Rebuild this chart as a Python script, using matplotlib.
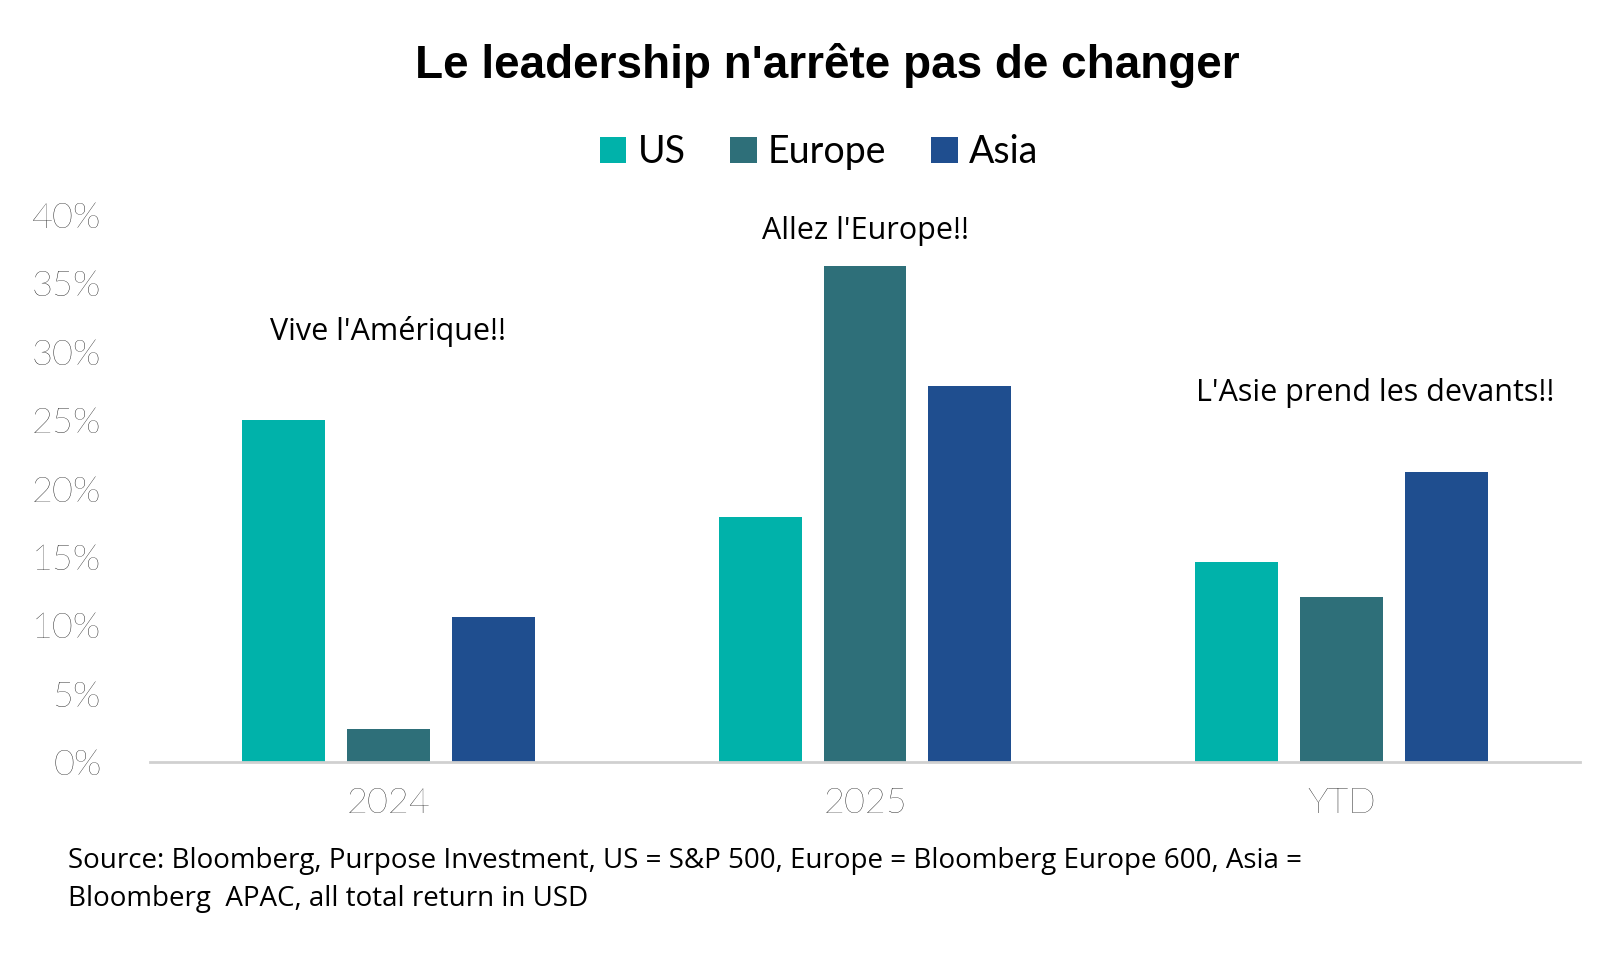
import matplotlib
matplotlib.use("Agg")
import matplotlib.pyplot as plt
import numpy as np

categories = ["2024", "2025", "YTD"]
series = ["US", "Europe", "Asia"]
us = [25.0, 17.9, 14.6]
europe = [2.4, 36.3, 12.1]
asia = [10.6, 27.5, 21.2]
colors = ["#00B2AA", "#2E6F79", "#1F4E8F"]
yticks = [0, 5, 10, 15, 20, 25, 30, 35, 40]
notes = [("Vive l'Amérique!!", 0, 31.5), ("Allez l'Europe!!", 1, 38.8), ("L'Asie prend les devants!!", 2, 27.0)]

W, H = 1622, 975
fig = plt.figure(figsize=(W/100, H/100), dpi=100)
ax = fig.add_axes([150/W, 1-762/H, (1580-150)/W, (762-215)/H])

x = np.arange(len(categories))
w = 0.22
for i, (vals, name) in enumerate(zip([us, europe, asia], series)):
    ax.bar(x + (i-1)*w, vals, width=w*0.79, color=colors[i], label=name)

ax.set_xlim(-0.5, 2.5)
ax.set_ylim(0, 40)
ax.set_yticks(yticks)
ax.set_yticklabels([f"{t}%" for t in yticks], fontsize=26, family="Lato", fontweight="light")
ax.set_xticks(x)
ax.set_xticklabels(categories, fontsize=26, family="Lato", fontweight="light")
for s in ["top", "right", "left"]:
    ax.spines[s].set_visible(False)
ax.spines["bottom"].set_color("#D0D0D0")
ax.spines["bottom"].set_linewidth(2)
ax.tick_params(length=0, pad=12)
ax.tick_params(axis="y", pad=35)
ax.tick_params(axis="x", pad=18)

for txt, xi, yv in notes:
    off = 0.0 if xi != 2 else 0.07
    ax.text(xi + off, yv, txt, ha="center", va="center", fontsize=22, family="Open Sans")

fig.text(0.51, 1-65/H, "Le leadership n'arrête pas de changer", ha="center", va="center",
         fontsize=33, fontweight="bold", family="Liberation Sans")
fig.legend(loc="center", bbox_to_anchor=(0.505, 1-152/H), ncol=3, frameon=False,
           prop={"family": "Lato", "size": 27}, handlelength=0.7, handleheight=0.7,
           handletextpad=0.3, columnspacing=1.2)
fig.text(68/W, 1-880/H, "Source: Bloomberg, Purpose Investment, US = S&P 500, Europe = Bloomberg Europe 600, Asia =\nBloomberg  APAC, all total return in USD",
         ha="left", va="center", fontsize=20, family="Open Sans", linespacing=1.45)
fig.savefig("out.png", dpi=100, facecolor="white")
